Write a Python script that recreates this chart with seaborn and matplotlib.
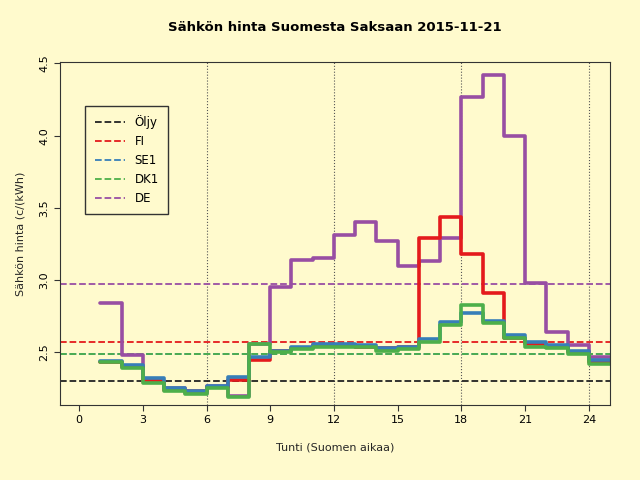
import numpy as np
import matplotlib
matplotlib.use("Agg")
import matplotlib.pyplot as plt
import seaborn as sns

hours = list(range(1, 26))
fi = [2.43, 2.40, 2.30, 2.24, 2.23, 2.26, 2.31, 2.45, 2.51, 2.53, 2.55, 2.55, 2.54,
      2.53, 2.54, 3.29, 3.44, 3.18, 2.91, 2.60, 2.56, 2.54, 2.50, 2.43]
se1 = [2.44, 2.41, 2.32, 2.25, 2.23, 2.27, 2.33, 2.47, 2.51, 2.54, 2.56, 2.56, 2.55,
       2.53, 2.54, 2.59, 2.71, 2.77, 2.72, 2.62, 2.57, 2.55, 2.51, 2.45]
dk1 = [2.43, 2.39, 2.29, 2.23, 2.21, 2.25, 2.19, 2.56, 2.50, 2.52, 2.54, 2.54, 2.54,
       2.51, 2.52, 2.57, 2.69, 2.83, 2.70, 2.60, 2.54, 2.53, 2.49, 2.42]
de = [2.84, 2.48, 2.30, 2.25, 2.22, 2.27, 2.20, 2.56, 2.955, 3.14, 3.15, 3.31, 3.40,
      3.27, 3.10, 3.13, 3.29, 4.27, 4.42, 4.00, 2.98, 2.64, 2.55, 2.47]
means = {"Öljy": 2.30, "FI": 2.57, "SE1": 2.49, "DK1": 2.49, "DE": 2.97}
colors = {"Öljy": "#222222", "FI": "#e41a1c", "SE1": "#377eb8", "DK1": "#4daf4a", "DE": "#984ea3"}

sns.set_style("ticks")
plt.rcParams["font.family"] = ["DejaVu Sans"]
plt.rcParams["text.color"] = "black"
fig = plt.figure(figsize=(6.4, 4.8), dpi=100, facecolor="#fffacd")
ax = fig.add_axes([60 / 640, 75 / 480, 550 / 640, 343 / 480], facecolor="#fffacd")

for x in [6, 12, 18, 24]:
    ax.axvline(x, color="#555555", linestyle=":", linewidth=0.8)
for name, v in means.items():
    ax.axhline(v, color=colors[name], linestyle="--", linewidth=1.3, label=name)

for name, vals in [("DE", de), ("FI", fi), ("SE1", se1), ("DK1", dk1)]:
    ax.plot(hours, vals + [vals[-1]], drawstyle="steps-post", color=colors[name], linewidth=2.6)

ax.set_xlim(-0.9, 25.0)
ax.set_ylim(2.135, 4.51)
ax.set_xticks(range(0, 25, 3))
ax.set_yticks([2.5, 3.0, 3.5, 4.0, 4.5])
ax.set_yticklabels(["2.5", "3.0", "3.5", "4.0", "4.5"], rotation=90, va="center")
ax.tick_params(labelsize=8, length=4, color="#333333", labelcolor="black")
for s in ax.spines.values():
    s.set_visible(True)
    s.set_color("#333333")
    s.set_linewidth(0.8)
ax.set_xlabel("Tunti (Suomen aikaa)", fontsize=8, labelpad=12)
ax.set_ylabel("Sähkön hinta (c/(kWh)", fontsize=8, labelpad=10)
ax.set_title("Sähkön hinta Suomesta Saksaan 2015-11-21", fontsize=9.5, fontweight="bold", pad=22)
leg = ax.legend(loc="upper left", bbox_to_anchor=(0.035, 0.89), fontsize=8.5, fancybox=False,
                framealpha=1, facecolor="#fffacd", edgecolor="#333333", handlelength=2.6,
                borderpad=0.8)
fig.savefig("out.png", dpi=100, facecolor="#fffacd")
